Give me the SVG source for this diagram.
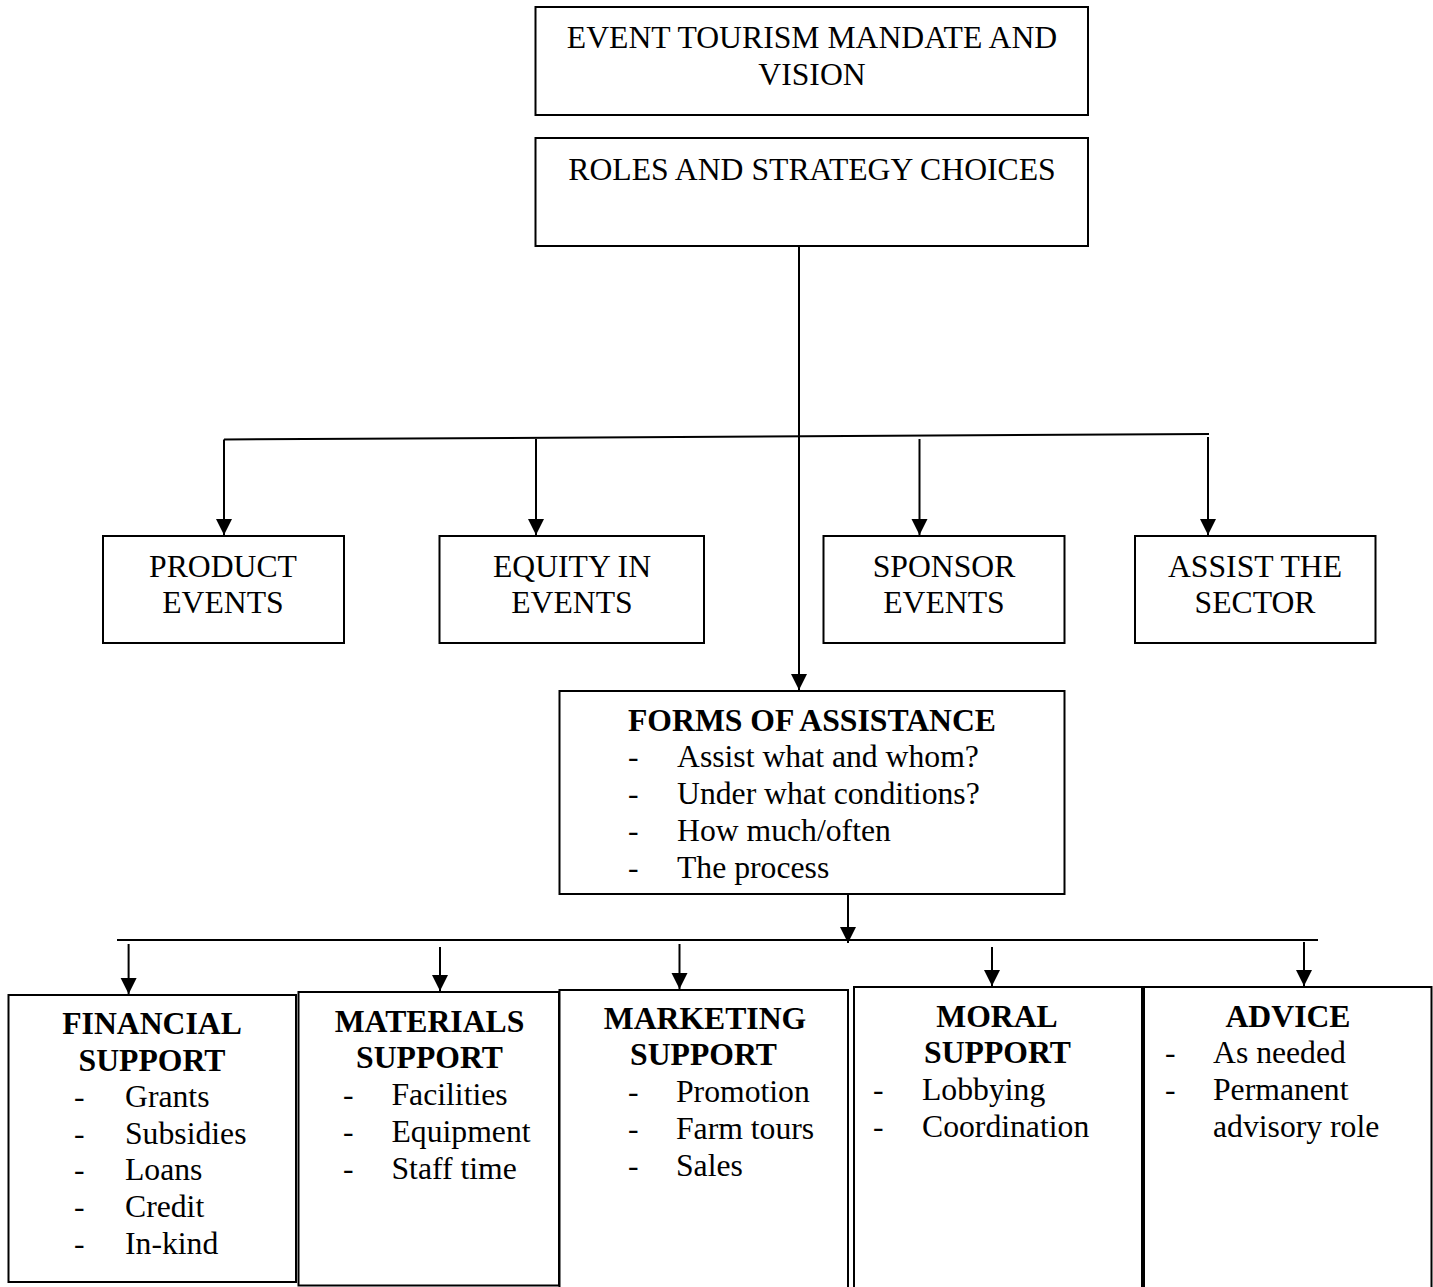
<svg xmlns="http://www.w3.org/2000/svg" width="1433" height="1287" viewBox="0 0 1433 1287">
<style>
rect{fill:#fff;stroke:#000;stroke-width:2}
text{font-family:"Liberation Serif","Times New Roman",serif;font-size:31.7px;fill:#000}
.c{text-anchor:middle}
.b{font-weight:bold}
.ln{stroke:#000;stroke-width:2;fill:none}
</style>
<defs>
<marker id="ah" markerUnits="userSpaceOnUse" markerWidth="16" markerHeight="17" refX="16" refY="8" orient="auto">
<path d="M0,0 L16,8 L0,16 z" fill="#000"/>
</marker>
</defs>
<rect x="0" y="0" width="1433" height="1287" style="stroke:none;fill:#fff"/>
<g id="connectors">
<path class="ln" d="M799,246 L799,690" marker-end="url(#ah)"/>
<path class="ln" d="M224,439.5 L1209,434"/>
<path class="ln" d="M224,439.5 L224,535" marker-end="url(#ah)"/>
<path class="ln" d="M536,439 L536,535" marker-end="url(#ah)"/>
<path class="ln" d="M919.5,439 L919.5,535" marker-end="url(#ah)"/>
<path class="ln" d="M1208,437 L1208,535" marker-end="url(#ah)"/>
<path class="ln" d="M848,894 L848,943" marker-end="url(#ah)"/>
<path class="ln" d="M117,940 L1318,940"/>
<path class="ln" d="M128.6,944 L128.6,994" marker-end="url(#ah)"/>
<path class="ln" d="M440,947 L440,991" marker-end="url(#ah)"/>
<path class="ln" d="M679.5,944 L679.5,989" marker-end="url(#ah)"/>
<path class="ln" d="M992,947 L992,986" marker-end="url(#ah)"/>
<path class="ln" d="M1304,942 L1304,986" marker-end="url(#ah)"/>
</g>
<g id="mandate">
<rect x="535.5" y="7" width="552.5" height="108"/>
<text class="c" x="812" y="47.5">EVENT TOURISM MANDATE AND</text>
<text class="c" x="812" y="85">VISION</text>
</g>
<g id="roles">
<rect x="535.5" y="138" width="552.5" height="108"/>
<text class="c" x="812" y="180">ROLES AND STRATEGY CHOICES</text>
</g>
<g id="product">
<rect x="103" y="536" width="241" height="107"/>
<text class="c" x="223" y="577">PRODUCT</text>
<text class="c" x="223" y="613">EVENTS</text>
</g>
<g id="equity">
<rect x="439.5" y="536" width="264.5" height="107"/>
<text class="c" x="572" y="577">EQUITY IN</text>
<text class="c" x="572" y="613">EVENTS</text>
</g>
<g id="sponsor">
<rect x="823.5" y="536" width="241" height="107"/>
<text class="c" x="944" y="577">SPONSOR</text>
<text class="c" x="944" y="613">EVENTS</text>
</g>
<g id="assist">
<rect x="1135" y="536" width="240.5" height="107"/>
<text class="c" x="1255" y="577">ASSIST THE</text>
<text class="c" x="1255" y="613">SECTOR</text>
</g>
<g id="forms">
<rect x="559.5" y="691" width="505" height="203"/>
<text class="c b" x="812" y="731">FORMS OF ASSISTANCE</text>
<text x="628" y="767">-</text><text x="677" y="767">Assist what and whom?</text>
<text x="628" y="804">-</text><text x="677" y="804">Under what conditions?</text>
<text x="628" y="841">-</text><text x="677" y="841">How much/often</text>
<text x="628" y="878">-</text><text x="677" y="878">The process</text>
</g>
<g id="financial">
<rect x="8.5" y="995" width="287.5" height="287"/>
<text class="c b" x="152" y="1034">FINANCIAL</text>
<text class="c b" x="152" y="1070.5">SUPPORT</text>
<text x="74" y="1107">-</text><text x="125" y="1107">Grants</text>
<text x="74" y="1143.7">-</text><text x="125" y="1143.7">Subsidies</text>
<text x="74" y="1180.4">-</text><text x="125" y="1180.4">Loans</text>
<text x="74" y="1217.1">-</text><text x="125" y="1217.1">Credit</text>
<text x="74" y="1253.8">-</text><text x="125" y="1253.8">In-kind</text>
</g>
<g id="materials">
<rect x="298.5" y="992" width="260.5" height="293.5"/>
<text class="c b" x="429.5" y="1031.7">MATERIALS</text>
<text class="c b" x="429.5" y="1068">SUPPORT</text>
<text x="343" y="1105">-</text><text x="391.5" y="1105">Facilities</text>
<text x="343" y="1142">-</text><text x="391.5" y="1142">Equipment</text>
<text x="343" y="1178.5">-</text><text x="391.5" y="1178.5">Staff time</text>
</g>
<g id="marketing">
<rect x="559.5" y="990" width="288.5" height="300"/>
<text class="c b" x="705" y="1029">MARKETING</text>
<text class="c b" x="703.5" y="1065">SUPPORT</text>
<text x="628" y="1102">-</text><text x="676" y="1102">Promotion</text>
<text x="628" y="1139">-</text><text x="676" y="1139">Farm tours</text>
<text x="628" y="1176">-</text><text x="676" y="1176">Sales</text>
</g>
<g id="moral">
<rect x="854" y="987" width="288" height="303"/>
<text class="c b" x="997" y="1026.7">MORAL</text>
<text class="c b" x="997.5" y="1063.3">SUPPORT</text>
<text x="873" y="1099.5">-</text><text x="922" y="1099.5">Lobbying</text>
<text x="873" y="1136.5">-</text><text x="922" y="1136.5">Coordination</text>
</g>
<g id="advice">
<rect x="1144" y="987" width="287.5" height="303"/>
<text class="c b" x="1288" y="1026.7">ADVICE</text>
<text x="1165" y="1063">-</text><text x="1213" y="1063">As needed</text>
<text x="1165" y="1099.5">-</text><text x="1213" y="1099.5">Permanent</text>
<text x="1213" y="1136.5">advisory role</text>
</g>
</svg>
